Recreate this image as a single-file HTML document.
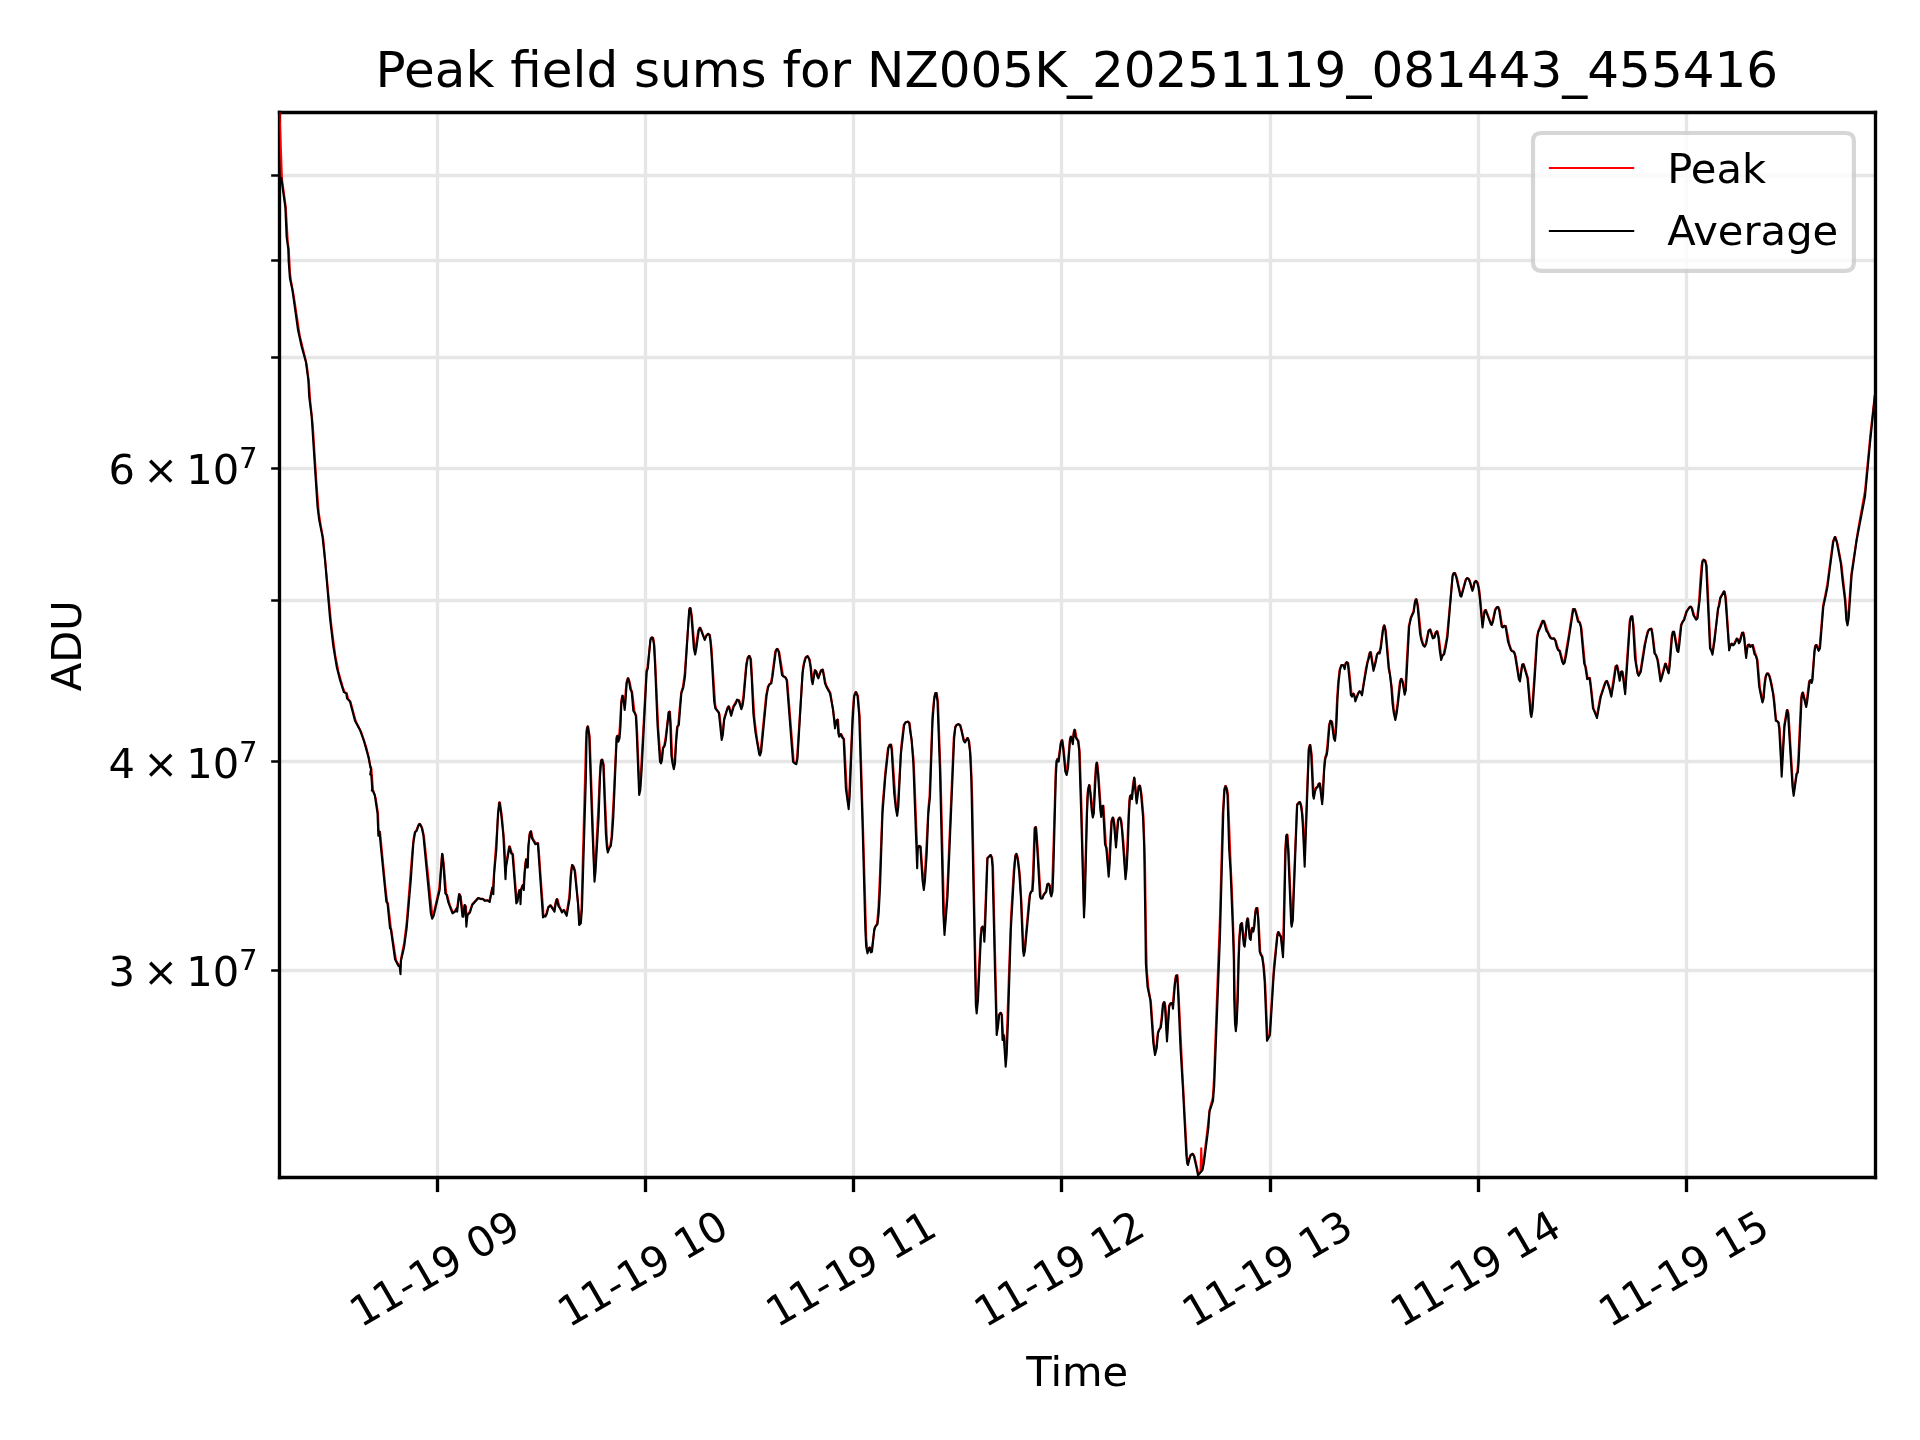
<!DOCTYPE html>
<html lang="en"><head><meta charset="utf-8"><title>Peak field sums</title>
<style>html,body{margin:0;padding:0;background:#fff;overflow:hidden}svg{display:block;will-change:transform}</style></head>
<body>
<svg width="1920" height="1440" viewBox="0 0 460.8 345.6" version="1.1">
 <defs>
  <style type="text/css">*{stroke-linejoin: round; stroke-linecap: butt}</style>
 </defs>
 <g id="figure_1">
  <g id="patch_1">
   <path d="M 0 345.6 
L 460.8 345.6 
L 460.8 0 
L 0 0 
z
" style="fill: #ffffff"/>
  </g>
  <g id="axes_1">
   <g id="patch_2">
    <path d="M 67.08 282.6 
L 450.12 282.6 
L 450.12 27 
L 67.08 27 
z
" style="fill: #ffffff"/>
   </g>
   <g id="matplotlib.axis_1">
    <g id="xtick_1">
     <g id="line2d_1">
      <path d="M 105.0 282.6 L 105.0 27" clip-path="url(#p06871fd2fd)" style="fill: none; stroke: #e6e6e6; stroke-width: 0.8; stroke-linecap: square"/>
     </g>
     <g id="line2d_2">
      <defs>
       <path id="me9781d73f8" d="M 0 0 
L 0 3.5 
" style="stroke: #000000; stroke-width: 0.8"/>
      </defs>
      <g>
       <use href="#me9781d73f8" x="105.0" y="282.6" style="stroke: #000000; stroke-width: 0.8"/>
      </g>
     </g>
     <g id="text_1" transform="translate(-0.3360 0.0480)">
      <text style="font-size: 10px; font-family: 'DejaVu Sans', 'Liberation Sans', sans-serif" transform="translate(86.88703 318.660909) rotate(-30)">11-19 09</text>
     </g>
    </g>
    <g id="xtick_2">
     <g id="line2d_3">
      <path d="M 154.92 282.6 L 154.92 27" clip-path="url(#p06871fd2fd)" style="fill: none; stroke: #e6e6e6; stroke-width: 0.8; stroke-linecap: square"/>
     </g>
     <g id="line2d_4">
      <g>
       <use href="#me9781d73f8" x="154.92" y="282.6" style="stroke: #000000; stroke-width: 0.8"/>
      </g>
     </g>
     <g id="text_2" transform="translate(-0.3360 0.0480)">
      <text style="font-size: 10px; font-family: 'DejaVu Sans', 'Liberation Sans', sans-serif" transform="translate(136.84783 318.660909) rotate(-30)">11-19 10</text>
     </g>
    </g>
    <g id="xtick_3">
     <g id="line2d_5">
      <path d="M 204.84 282.6 L 204.84 27" clip-path="url(#p06871fd2fd)" style="fill: none; stroke: #e6e6e6; stroke-width: 0.8; stroke-linecap: square"/>
     </g>
     <g id="line2d_6">
      <g>
       <use href="#me9781d73f8" x="204.84" y="282.6" style="stroke: #000000; stroke-width: 0.8"/>
      </g>
     </g>
     <g id="text_3" transform="translate(-0.3360 0.0480)">
      <text style="font-size: 10px; font-family: 'DejaVu Sans', 'Liberation Sans', sans-serif" transform="translate(186.80863 318.660909) rotate(-30)">11-19 11</text>
     </g>
    </g>
    <g id="xtick_4">
     <g id="line2d_7">
      <path d="M 254.76 282.6 L 254.76 27" clip-path="url(#p06871fd2fd)" style="fill: none; stroke: #e6e6e6; stroke-width: 0.8; stroke-linecap: square"/>
     </g>
     <g id="line2d_8">
      <g>
       <use href="#me9781d73f8" x="254.76" y="282.6" style="stroke: #000000; stroke-width: 0.8"/>
      </g>
     </g>
     <g id="text_4" transform="translate(-0.3360 0.0480)">
      <text style="font-size: 10px; font-family: 'DejaVu Sans', 'Liberation Sans', sans-serif" transform="translate(236.76943 318.660909) rotate(-30)">11-19 12</text>
     </g>
    </g>
    <g id="xtick_5">
     <g id="line2d_9">
      <path d="M 304.92 282.6 L 304.92 27" clip-path="url(#p06871fd2fd)" style="fill: none; stroke: #e6e6e6; stroke-width: 0.8; stroke-linecap: square"/>
     </g>
     <g id="line2d_10">
      <g>
       <use href="#me9781d73f8" x="304.92" y="282.6" style="stroke: #000000; stroke-width: 0.8"/>
      </g>
     </g>
     <g id="text_5" transform="translate(-0.3360 0.0480)">
      <text style="font-size: 10px; font-family: 'DejaVu Sans', 'Liberation Sans', sans-serif" transform="translate(286.73023 318.660909) rotate(-30)">11-19 13</text>
     </g>
    </g>
    <g id="xtick_6">
     <g id="line2d_11">
      <path d="M 354.84 282.6 L 354.84 27" clip-path="url(#p06871fd2fd)" style="fill: none; stroke: #e6e6e6; stroke-width: 0.8; stroke-linecap: square"/>
     </g>
     <g id="line2d_12">
      <g>
       <use href="#me9781d73f8" x="354.84" y="282.6" style="stroke: #000000; stroke-width: 0.8"/>
      </g>
     </g>
     <g id="text_6" transform="translate(-0.3360 0.0480)">
      <text style="font-size: 10px; font-family: 'DejaVu Sans', 'Liberation Sans', sans-serif" transform="translate(336.69103 318.660909) rotate(-30)">11-19 14</text>
     </g>
    </g>
    <g id="xtick_7">
     <g id="line2d_13">
      <path d="M 404.76 282.6 L 404.76 27" clip-path="url(#p06871fd2fd)" style="fill: none; stroke: #e6e6e6; stroke-width: 0.8; stroke-linecap: square"/>
     </g>
     <g id="line2d_14">
      <g>
       <use href="#me9781d73f8" x="404.76" y="282.6" style="stroke: #000000; stroke-width: 0.8"/>
      </g>
     </g>
     <g id="text_7" transform="translate(-0.3360 0.0480)">
      <text style="font-size: 10px; font-family: 'DejaVu Sans', 'Liberation Sans', sans-serif" transform="translate(386.65183 318.660909) rotate(-30)">11-19 15</text>
     </g>
    </g>
    <g id="text_8" transform="translate(-0.0720 0.5796)">
     <text style="font-size: 10px; font-family: 'DejaVu Sans', 'Liberation Sans', sans-serif; text-anchor: middle" x="258.6" y="332.060408" transform="rotate(-0 258.6 332.060408)">Time</text>
    </g>
   </g>
   <g id="matplotlib.axis_2">
    <g id="ytick_1">
     <g id="line2d_15">
      <path d="M 67.08 232.92 L 450.12 232.92" clip-path="url(#p06871fd2fd)" style="fill: none; stroke: #e6e6e6; stroke-width: 0.8; stroke-linecap: square"/>
     </g>
     <g id="line2d_16">
      <defs>
       <path id="m1f9782f0f3" d="M 0 0 
L -2 0 
" style="stroke: #000000; stroke-width: 0.6"/>
      </defs>
      <g>
       <use href="#m1f9782f0f3" x="67.08" y="232.92" style="stroke: #000000; stroke-width: 0.6"/>
      </g>
     </g>
     <g id="text_9" transform="translate(0.5760 0.0000)">
      <!-- $\mathdefault{3\times10^{7}}$ -->
      <g transform="translate(25.48 236.623219)">
       <text>
        <tspan x="0" y="-0.064063" style="font-size: 10px; font-family: 'DejaVu Sans'">3</tspan>
        <tspan x="8.310547" y="-0.064063" style="font-size: 10px; font-family: 'DejaVu Sans'">×</tspan>
        <tspan x="18.637695" y="-0.064063" style="font-size: 10px; font-family: 'DejaVu Sans'">1</tspan>
        <tspan x="25" y="-0.064063" style="font-size: 10px; font-family: 'DejaVu Sans'">0</tspan>
        <tspan x="31.314008" y="-3.892188" style="font-size: 7px; font-family: 'DejaVu Sans'">7</tspan>
       </text>
      </g>
     </g>
    </g>
    <g id="ytick_2">
     <g id="line2d_17">
      <path d="M 67.08 182.76 L 450.12 182.76" clip-path="url(#p06871fd2fd)" style="fill: none; stroke: #e6e6e6; stroke-width: 0.8; stroke-linecap: square"/>
     </g>
     <g id="line2d_18">
      <g>
       <use href="#m1f9782f0f3" x="67.08" y="182.76" style="stroke: #000000; stroke-width: 0.6"/>
      </g>
     </g>
     <g id="text_10" transform="translate(0.5760 0.0000)">
      <!-- $\mathdefault{4\times10^{7}}$ -->
      <g transform="translate(25.48 186.667714)">
       <text>
        <tspan x="0" y="-0.064063" style="font-size: 10px; font-family: 'DejaVu Sans'">4</tspan>
        <tspan x="8.310547" y="-0.064063" style="font-size: 10px; font-family: 'DejaVu Sans'">×</tspan>
        <tspan x="18.637695" y="-0.064063" style="font-size: 10px; font-family: 'DejaVu Sans'">1</tspan>
        <tspan x="25" y="-0.064063" style="font-size: 10px; font-family: 'DejaVu Sans'">0</tspan>
        <tspan x="31.314008" y="-3.892188" style="font-size: 7px; font-family: 'DejaVu Sans'">7</tspan>
       </text>
      </g>
     </g>
    </g>
    <g id="ytick_3">
     <g id="line2d_19">
      <path d="M 67.08 144.12 L 450.12 144.12" clip-path="url(#p06871fd2fd)" style="fill: none; stroke: #e6e6e6; stroke-width: 0.8; stroke-linecap: square"/>
     </g>
     <g id="line2d_20">
      <g>
       <use href="#m1f9782f0f3" x="67.08" y="144.12" style="stroke: #000000; stroke-width: 0.6"/>
      </g>
     </g>
    </g>
    <g id="ytick_4">
     <g id="line2d_21">
      <path d="M 67.08 112.44 L 450.12 112.44" clip-path="url(#p06871fd2fd)" style="fill: none; stroke: #e6e6e6; stroke-width: 0.8; stroke-linecap: square"/>
     </g>
     <g id="line2d_22">
      <g>
       <use href="#m1f9782f0f3" x="67.08" y="112.44" style="stroke: #000000; stroke-width: 0.6"/>
      </g>
     </g>
     <g id="text_11" transform="translate(0.5760 0.0000)">
      <!-- $\mathdefault{6\times10^{7}}$ -->
      <g transform="translate(25.48 116.259385)">
       <text>
        <tspan x="0" y="-0.064063" style="font-size: 10px; font-family: 'DejaVu Sans'">6</tspan>
        <tspan x="8.310547" y="-0.064063" style="font-size: 10px; font-family: 'DejaVu Sans'">×</tspan>
        <tspan x="18.637695" y="-0.064063" style="font-size: 10px; font-family: 'DejaVu Sans'">1</tspan>
        <tspan x="25" y="-0.064063" style="font-size: 10px; font-family: 'DejaVu Sans'">0</tspan>
        <tspan x="31.314008" y="-3.892188" style="font-size: 7px; font-family: 'DejaVu Sans'">7</tspan>
       </text>
      </g>
     </g>
    </g>
    <g id="ytick_5">
     <g id="line2d_23">
      <path d="M 67.08 85.8 L 450.12 85.8" clip-path="url(#p06871fd2fd)" style="fill: none; stroke: #e6e6e6; stroke-width: 0.8; stroke-linecap: square"/>
     </g>
     <g id="line2d_24">
      <g>
       <use href="#m1f9782f0f3" x="67.08" y="85.8" style="stroke: #000000; stroke-width: 0.6"/>
      </g>
     </g>
    </g>
    <g id="ytick_6">
     <g id="line2d_25">
      <path d="M 67.08 62.52 L 450.12 62.52" clip-path="url(#p06871fd2fd)" style="fill: none; stroke: #e6e6e6; stroke-width: 0.8; stroke-linecap: square"/>
     </g>
     <g id="line2d_26">
      <g>
       <use href="#m1f9782f0f3" x="67.08" y="62.52" style="stroke: #000000; stroke-width: 0.6"/>
      </g>
     </g>
    </g>
    <g id="ytick_7">
     <g id="line2d_27">
      <path d="M 67.08 42.12 L 450.12 42.12" clip-path="url(#p06871fd2fd)" style="fill: none; stroke: #e6e6e6; stroke-width: 0.8; stroke-linecap: square"/>
     </g>
     <g id="line2d_28">
      <g>
       <use href="#m1f9782f0f3" x="67.08" y="42.12" style="stroke: #000000; stroke-width: 0.6"/>
      </g>
     </g>
    </g>
    <g id="text_12" transform="translate(0.0960 0.1800)">
     <text style="font-size: 10px; font-family: 'DejaVu Sans', 'Liberation Sans', sans-serif; text-anchor: middle" x="19.400312" y="154.8" transform="rotate(-90 19.400312 154.8)">ADU</text>
    </g>
   </g>
   <g id="patch_3">
    <path d="M 67.08 282.6 L 67.08 27" style="fill: none; stroke: #000000; stroke-width: 0.8; stroke-linejoin: miter; stroke-linecap: square"/>
   </g>
   <g id="patch_4">
    <path d="M 450.12 282.6 L 450.12 27" style="fill: none; stroke: #000000; stroke-width: 0.8; stroke-linejoin: miter; stroke-linecap: square"/>
   </g>
   <g id="patch_5">
    <path d="M 67.08 282.6 L 450.12 282.6" style="fill: none; stroke: #000000; stroke-width: 0.8; stroke-linejoin: miter; stroke-linecap: square"/>
   </g>
   <g id="patch_6">
    <path d="M 67.08 27.0 L 450.12 27.0" style="fill: none; stroke: #000000; stroke-width: 0.8; stroke-linejoin: miter; stroke-linecap: square"/>
   </g>
   <g id="line2d_29">
    <path d="M 67.08 27 
L 67.68 43.064789 
L 68.58 49.65 
L 69.06 58 
L 69.3 59.8 
L 69.6 65.466667 
L 69.84 67.453333 
L 70.5 71.034783 
L 71.94 80.563636 
L 73.02 85 
L 73.62 87.533333 
L 74.16 92 
L 74.46 96.32 
L 75.06 101.96 
L 75.96 116.08 
L 76.5 123.04 
L 76.98 126.1 
L 77.58 129.4 
L 78.84 143.04 
L 79.56 150.44 
L 80.46 157.24 
L 81.24 161.28 
L 82.26 164.913913 
L 82.74 166.166667 
L 83.22 166.390667 
L 83.58 167.8 
L 84.12 168.4 
L 85.38 173.11 
L 86.76 175.872 
L 87.9 179.368 
L 88.56 181.98 
L 88.86 184.08 
L 89.04 184.08 
L 89.16 184.68 
L 89.52 189.565714 
L 90.18 191.6 
L 90.72 195.2 
L 90.9 199.814286 
L 90.96 199.6 
L 91.2 199.6 
L 92.52 213.2 
L 92.94 216.542857 
L 93.12 216.8 
L 93.84 222.92 
L 93.9 222.98 
L 94.2 225.016 
L 95.04 230.44 
L 95.88 231.9 
L 96 231.975 
L 96.06 232.18 
L 96.24 230.063158 
L 97.02 226.173333 
L 97.62 221.176 
L 98.88 205.333333 
L 99.24 201.36 
L 99.6 199.68 
L 99.9 199.34 
L 100.5 197.87 
L 100.68 197.756667 
L 100.92 197.866667 
L 101.4 198.96 
L 101.76 200.8 
L 103.8 220.102222 
L 104.04 219.466667 
L 105.42 213.32 
L 106.08 205.082857 
L 106.26 205.082857 
L 106.62 208.7 
L 107.1 214.525 
L 107.34 214.89 
L 107.94 217.172 
L 108.72 219.04 
L 109.14 218.68 
L 109.56 218.08 
L 109.68 218.08 
L 110.16 214.642857 
L 110.34 214.642857 
L 110.58 215.157143 
L 110.94 218.338462 
L 111.12 219.65 
L 111.48 217.24 
L 111.66 217.24 
L 111.84 217.6 
L 111.96 220.48 
L 112.02 220.2 
L 112.2 219.48 
L 112.74 218.792308 
L 113.34 217.035294 
L 114.72 215.538667 
L 115.14 215.622667 
L 115.62 215.732 
L 115.98 215.768 
L 116.58 216.14 
L 117.18 216.126154 
L 117.42 216.310769 
L 117.72 214.98 
L 118.14 213 
L 118.32 213 
L 119.76 192.6 
L 120 192.6 
L 120.48 196.146667 
L 121.02 202.3 
L 121.32 208 
L 121.38 207.861538 
L 122.16 203.2 
L 122.4 203.2 
L 122.88 204.85 
L 123.12 205 
L 124.02 216.485714 
L 124.08 216.4 
L 124.56 213.72 
L 124.8 213.6 
L 124.98 213.54 
L 125.4 212.46 
L 125.58 212.46 
L 125.64 212.6 
L 126.06 207.144444 
L 126.24 206.4 
L 126.42 206.4 
L 126.54 207.6 
L 127.02 200.48 
L 127.2 199.712 
L 127.38 199.568 
L 127.5 199.568 
L 127.68 200.48 
L 127.92 201.384615 
L 128.7 202.486667 
L 129.18 202.406667 
L 129.42 205.55 
L 129.96 213.2 
L 130.32 217.68 
L 130.44 219.857143 
L 130.5 219.814286 
L 130.86 219.8125 
L 131.16 219.08 
L 131.58 217.691667 
L 132.06 217.301667 
L 132.24 217.335385 
L 133.02 218.3875 
L 133.44 216.142857 
L 133.62 215.8 
L 133.8 215.8 
L 134.28 217.64 
L 134.82 218.625 
L 134.94 218.73 
L 135.24 218.4375 
L 135.42 218.4375 
L 135.96 219.36 
L 136.62 215.228571 
L 137.04 209 
L 137.28 207.628571 
L 137.52 207.714286 
L 137.82 208.3125 
L 138.06 209.21 
L 139.02 220.142857 
L 139.14 221.74 
L 139.2 221.68 
L 139.26 221.62 
L 139.56 218 
L 140.64 177.92 
L 140.82 174.853333 
L 141 174.435556 
L 141.18 174.435556 
L 141.54 176.914286 
L 142.32 199.6 
L 142.68 210.1 
L 142.74 209.8 
L 142.92 207.1 
L 143.7 191.8 
L 144.06 183.957143 
L 144.24 182.488 
L 144.48 182.32 
L 144.6 182.32 
L 144.9 183.52 
L 145.2 191.65 
L 145.68 202.057143 
L 145.92 204.1 
L 146.28 203.3 
L 146.46 203.03 
L 146.76 200.8 
L 147.24 192.16 
L 147.96 176.96 
L 148.14 176.6 
L 148.32 176.6 
L 148.44 177.44 
L 148.5 177.371429 
L 148.56 177.2 
L 148.86 172.72 
L 149.1 168.157143 
L 149.34 167 
L 149.52 167 
L 149.88 169.066667 
L 149.94 169 
L 150.18 165.571429 
L 150.42 163.475 
L 150.66 162.8 
L 150.84 162.8 
L 151.2 164.114286 
L 151.5 165.5875 
L 151.74 166.2 
L 152.28 170.828571 
L 152.58 171.45 
L 152.7 171.75 
L 152.94 176.175 
L 153.48 189.942857 
L 153.6 189 
L 154.2 178.4 
L 155.16 160.971429 
L 155.4 160 
L 156.18 153.1875 
L 156.36 153 
L 156.78 153.1 
L 157.08 155.085714 
L 157.5 164.15 
L 157.98 174.771429 
L 158.58 182.9 
L 158.7 182.6 
L 158.76 182.4 
L 159.12 179.42 
L 159.42 178.9 
L 159.78 176.7 
L 160.5 170.86 
L 160.68 170.8 
L 160.8 170.8 
L 161.04 174.866667 
L 161.34 181.914286 
L 161.7 183.9875 
L 161.88 183.2 
L 162.42 175.075 
L 162.6 174.25 
L 162.78 174.025 
L 163.08 170.4 
L 163.5 166.108333 
L 163.92 164.74 
L 164.34 161.5 
L 165.48 146 
L 165.78 146.04 
L 166.08 148.171429 
L 166.74 156.0625 
L 166.86 156.34 
L 167.16 154.228571 
L 167.58 151.325 
L 167.88 150.68 
L 168.12 150.68 
L 168.78 152.42 
L 169.14 153.25 
L 169.62 152.336 
L 169.92 152.12 
L 170.16 152.213333 
L 170.4 152.4 
L 170.76 155.542857 
L 171.18 162.15 
L 171.66 169.2 
L 171.9 170.136364 
L 172.68 171.377778 
L 173.28 176.742857 
L 173.4 175.95 
L 173.82 172.31 
L 174.66 169.691429 
L 174.84 169.588571 
L 175.02 169.6 
L 175.44 171.228571 
L 175.5 171.1875 
L 175.98 169.569231 
L 176.64 168.36 
L 176.88 167.928889 
L 177.3 168.035556 
L 177.42 168.1375 
L 177.96 169.742857 
L 178.02 169.571429 
L 178.14 169.014286 
L 178.44 166.6 
L 179.1 159.375 
L 179.46 157.766667 
L 179.76 157.45 
L 179.94 157.45 
L 180.24 158.2 
L 180.72 166.8 
L 181.08 172.666667 
L 181.74 177.692308 
L 182.34 181.032 
L 182.52 180.531429 
L 182.7 178.825 
L 183.84 167.1 
L 184.26 164.9 
L 184.62 164.19 
L 184.98 164.01 
L 185.28 162.4 
L 186.06 156.33 
L 186.3 155.87 
L 186.48 155.757778 
L 186.66 155.757778 
L 187.02 156.54 
L 187.92 162.12 
L 188.46 162.53 
L 188.64 162.675 
L 188.94 163.46 
L 190.5 182.86 
L 190.98 183.27 
L 191.04 183.2 
L 191.28 182 
L 192.72 160.16 
L 193.14 158.29 
L 193.38 157.72 
L 193.8 157.48 
L 193.98 157.588 
L 194.34 158.3125 
L 194.7 160.685714 
L 195 163.533333 
L 195.24 162.182857 
L 195.54 160.88 
L 195.78 160.948571 
L 196.02 161.283333 
L 196.38 162.5 
L 196.62 161.937778 
L 197.04 160.84 
L 197.52 160.72 
L 198.06 163.625 
L 198.3 164.45 
L 198.78 165.366667 
L 199.32 166.4 
L 200.22 172.385714 
L 200.4 174.08 
L 200.7 172.99 
L 201 172.72 
L 201.12 172.72 
L 201.42 176.4 
L 201.48 176.5 
L 201.54 176.41 
L 201.78 176.23 
L 201.96 176.3 
L 202.44 177.222222 
L 202.56 177.355556 
L 202.68 179.2 
L 203.28 190.48 
L 203.64 193.171429 
L 203.88 189.028571 
L 204.66 170.72 
L 204.96 166.976 
L 205.32 166.136 
L 205.56 166.172 
L 205.92 167 
L 206.34 172.2 
L 207.24 202.4 
L 207.9 225.2 
L 208.14 227.9 
L 208.2 228.2 
L 208.26 228.157143 
L 208.56 227.466667 
L 208.86 227.485714 
L 209.1 228.442857 
L 209.16 228.4 
L 209.94 222.55 
L 210.18 222.175 
L 210.48 221.8 
L 210.84 217.7 
L 211.2 209.45 
L 211.8 193.485714 
L 212.46 185.4 
L 213.12 179.5 
L 213.48 178.777143 
L 213.9 178.725714 
L 214.08 179.744 
L 214.26 182.333333 
L 214.98 192.74 
L 215.28 194.9 
L 215.4 194.228571 
L 215.52 192.8 
L 216.3 179 
L 216.9 173.9625 
L 217.32 173.35 
L 217.92 173.2 
L 218.28 173.488 
L 218.4 174.192 
L 219.24 182.08 
L 219.42 185.7 
L 220.14 204.2 
L 220.2 203.525 
L 220.56 203.014286 
L 220.86 203.1 
L 220.98 203.185714 
L 221.28 207.6 
L 221.7 212.55 
L 221.88 211.2 
L 222.42 201.7 
L 222.84 193.6 
L 223.08 191.2 
L 223.8 171.64 
L 224.22 167.2 
L 224.46 166.366667 
L 224.82 166.326667 
L 225.06 167.954286 
L 225.12 168.4 
L 225.72 185.2 
L 226.62 221.057143 
L 226.74 222.375 
L 227.28 215.2 
L 228.9 177.014286 
L 229.26 174.4125 
L 229.62 173.93 
L 230.1 173.81 
L 230.4 173.996 
L 230.52 174.08 
L 231 176.114286 
L 231.36 177.657143 
L 231.54 177.975 
L 231.6 177.975 
L 232.14 177.12 
L 232.32 177.12 
L 232.62 177.9625 
L 232.98 181.675 
L 233.34 191.485714 
L 233.76 213.6 
L 234.3 240.6 
L 234.42 241.8 
L 234.66 238.542857 
L 235.32 224.72 
L 235.56 222.64 
L 235.8 222.4 
L 235.92 222.4 
L 236.22 223.55 
L 236.28 223.2 
L 236.94 205.94 
L 237.78 205.2 
L 237.84 205.2 
L 238.14 206.02 
L 238.32 208 
L 238.92 233.2 
L 239.28 247.15 
L 239.58 244.6 
L 239.76 243.47 
L 240.12 243.08 
L 240.24 243.08 
L 240.48 243.525714 
L 240.6 246 
L 240.78 248.571429 
L 240.96 248.571429 
L 241.02 248.8 
L 241.38 254.366667 
L 241.56 251.2 
L 242.04 236.628571 
L 242.64 220 
L 243.3 208.942857 
L 243.66 205.316667 
L 243.84 204.976667 
L 244.08 205.074286 
L 244.38 206.48 
L 244.8 210.4 
L 245.22 218.057143 
L 245.64 228 
L 245.76 228.6 
L 245.94 227.4 
L 246.96 216.12 
L 247.2 214.457143 
L 247.5 213.9125 
L 247.68 213.8 
L 247.92 209.6 
L 248.28 198.8 
L 248.52 198.56 
L 248.64 198.56 
L 248.7 198.706667 
L 249.06 203.825 
L 249.78 215.302857 
L 250.08 215.6 
L 250.56 214.55 
L 250.98 214.025 
L 251.4 212.171429 
L 251.58 212.102857 
L 251.76 212.154286 
L 252 212.6 
L 252.3 214.7 
L 252.48 214 
L 252.84 202.8 
L 253.38 184.6 
L 253.56 182.56 
L 253.74 182.2 
L 253.92 182.2 
L 253.98 182.328571 
L 254.1 181.633333 
L 254.64 177.988571 
L 254.82 177.68 
L 255 177.68 
L 255.36 180.571429 
L 255.84 185.3 
L 255.96 185.6 
L 256.26 183.542857 
L 256.8 177.2 
L 256.98 176.8 
L 257.16 176.8 
L 257.4 177.8 
L 257.52 176.866667 
L 257.76 175.296 
L 258.06 175.288 
L 258.36 177.057143 
L 258.78 177.725 
L 258.84 177.8 
L 259.14 180.52 
L 259.56 193.771429 
L 260.16 217.7 
L 260.22 216.45 
L 260.34 212.7 
L 260.94 191.3 
L 261.12 189.314286 
L 261.36 188.542857 
L 261.54 188.542857 
L 261.9 191.65 
L 262.32 195.533333 
L 262.38 195.283333 
L 262.74 188 
L 263.04 183.56 
L 263.16 183.14 
L 263.34 183.14 
L 263.46 183.928571 
L 263.76 187.657143 
L 264.24 194.736 
L 264.54 193.45 
L 264.72 193.4 
L 264.84 193.4 
L 265.44 202.975 
L 265.62 203.5375 
L 266.04 208.571429 
L 266.16 207.733333 
L 266.52 200.4 
L 266.76 196.914286 
L 267 196.271429 
L 267.24 196.366667 
L 267.48 197.771429 
L 267.78 201.75 
L 267.84 201.7 
L 268.26 197 
L 268.5 196.3875 
L 268.68 196.242857 
L 268.86 196.242857 
L 269.16 197.142857 
L 269.64 202.2 
L 270.12 209.5 
L 270.24 208.771429 
L 270.48 204.685714 
L 270.72 198.4 
L 271.02 192.228571 
L 271.2 191.028571 
L 271.44 190.857143 
L 271.62 190.9 
L 271.86 188.642857 
L 272.16 186.82 
L 272.34 186.82 
L 272.76 192.114286 
L 272.82 191.6 
L 273.24 188.744 
L 273.48 188.576 
L 273.66 188.625714 
L 274.02 191 
L 274.44 196 
L 274.8 207.2 
L 275.04 224.533333 
L 275.22 232.6 
L 275.64 237.364706 
L 276.24 240.65 
L 276.96 250.68 
L 277.26 252.48 
L 277.5 251.375 
L 277.92 247.657143 
L 278.28 246.9 
L 278.46 246.63 
L 278.76 244.4 
L 279.12 240.891429 
L 279.3 240.582857 
L 279.54 240.592 
L 279.72 241.6 
L 280.08 248.16 
L 280.62 241.24 
L 280.92 240.773333 
L 281.16 240.733333 
L 281.28 240.776 
L 281.46 241.108 
L 281.7 238.314286 
L 282.06 234.842857 
L 282.24 234.152 
L 282.54 234.08 
L 282.6 234.08 
L 282.9 239.2 
L 283.68 255.371429 
L 284.28 266.742857 
L 284.88 277.6 
L 285.06 279.24 
L 285.12 279.085714 
L 285.66 277.26 
L 285.96 277.004 
L 286.26 276.92 
L 286.38 277.01 
L 286.68 277.555556 
L 287.34 280.505 
L 287.64 281.792 
L 288.12 281.244444 
L 288.3 275.592 
L 288.48 280.8 
L 288.54 280.5 
L 288.96 277.955556 
L 289.98 269.371429 
L 290.28 266.4 
L 291.06 263.471429 
L 291.36 258.742857 
L 292.8 219.657143 
L 293.46 195.371429 
L 293.82 189.37 
L 294.06 188.68 
L 294.24 188.68 
L 294.54 189.54 
L 294.72 190.8 
L 295.38 207.9 
L 295.68 213.942857 
L 296.16 227.866667 
L 296.28 235 
L 296.46 243.8 
L 296.58 246.164 
L 296.64 245.976 
L 296.88 241.314286 
L 297 237.76 
L 297.36 225.733333 
L 297.66 221.96 
L 297.96 221.6 
L 298.08 221.6 
L 298.14 221.725714 
L 298.62 226.6 
L 298.68 226.4 
L 299.34 220.533333 
L 299.58 220.6 
L 300.06 225.233333 
L 300.48 222.72 
L 300.72 222.72 
L 300.78 222.984 
L 300.84 222.8 
L 300.96 221.866667 
L 301.32 218.4 
L 301.5 217.95 
L 301.8 217.92 
L 302.1 221.44 
L 302.46 228.457143 
L 302.94 229.514286 
L 303 229.6 
L 303.42 232.85 
L 303.66 236.2 
L 304.2 249.35 
L 304.68 248.4 
L 305.76 231.75 
L 306.54 224.184 
L 306.72 223.752 
L 306.96 223.782857 
L 307.38 224.625 
L 307.5 224.775 
L 307.86 228.244 
L 308.04 222.4 
L 308.46 203.6 
L 308.7 200.5 
L 308.82 200.32 
L 309 200.32 
L 309.3 204.88 
L 309.96 220.914286 
L 310.02 221.6 
L 310.08 221.257143 
L 310.14 220.914286 
L 310.5 212.228571 
L 311.28 193.085714 
L 311.76 192.52 
L 312.06 192.531429 
L 312.36 193.485714 
L 312.66 196.1 
L 312.9 200.6 
L 313.08 205.44 
L 313.32 199.371429 
L 314.1 179.571429 
L 314.34 178.8 
L 314.52 178.8 
L 314.82 181.3 
L 315.3 191.064 
L 315.72 189.25 
L 315.9 189 
L 316.08 189 
L 316.5 188.083333 
L 316.68 188.033333 
L 316.8 188.033333 
L 316.86 188.16 
L 317.28 192.12 
L 317.34 191.46 
L 317.46 189.514286 
L 317.88 182.8 
L 318.06 181.75 
L 318.36 180.72 
L 318.54 179.04 
L 318.96 174 
L 319.26 173 
L 319.56 173.085714 
L 319.74 173.342857 
L 320.28 177.285714 
L 320.34 177.26 
L 320.58 174.4 
L 320.82 169.16 
L 321.12 164.171429 
L 321.48 160.8 
L 321.9 159.657778 
L 322.38 159.604444 
L 322.62 159.966667 
L 322.68 160.12 
L 322.92 159.194286 
L 323.16 158.94 
L 323.4 159 
L 323.58 159.18 
L 323.82 161.033333 
L 324.42 166.942857 
L 324.48 166.93 
L 324.78 166.525 
L 324.96 166.582857 
L 325.26 167.536 
L 325.32 167.86 
L 325.38 167.6875 
L 325.98 166.26 
L 326.28 165.92 
L 326.52 166.025 
L 326.76 166.297143 
L 326.82 166.442857 
L 327 165.6 
L 327.84 160.32 
L 328.32 158.25 
L 328.5 157.4 
L 328.74 156.604 
L 328.92 156.52 
L 329.04 156.52 
L 329.64 160.571429 
L 329.7 160.357143 
L 330.12 158.571429 
L 330.48 156.975 
L 330.78 156.625 
L 331.02 156.6625 
L 331.32 155.257143 
L 331.98 150.48 
L 332.16 150.16 
L 332.34 150.16 
L 332.64 151.733333 
L 333.36 160.114286 
L 334.08 165.371429 
L 334.5 170.15 
L 334.86 172.177778 
L 335.04 171.4 
L 335.4 168.8 
L 335.94 163.742857 
L 336.18 162.976667 
L 336.48 163.017143 
L 336.78 164.028571 
L 337.14 166.16 
L 337.26 165.68 
L 337.56 159.885714 
L 338.1 150.3 
L 338.64 148.08 
L 339.18 146.85 
L 339.72 143.885714 
L 340.02 143.8875 
L 340.38 145.885714 
L 341.1 152.9 
L 341.52 154.44 
L 341.76 154.92 
L 341.88 155.04 
L 341.94 154.966667 
L 342.18 154.4875 
L 342.84 151.32 
L 343.2 151.08 
L 343.32 151.08 
L 343.98 153.09 
L 344.1 153.03 
L 344.16 153 
L 344.58 151.7 
L 344.88 151.52 
L 345 151.52 
L 345.36 153.2 
L 345.9 157.733333 
L 345.96 157.775 
L 346.2 157.28 
L 346.5 156.91 
L 347.22 153.16 
L 347.4 151.428571 
L 348.66 137.885714 
L 348.84 137.573333 
L 349.2 137.533333 
L 349.32 137.715556 
L 349.68 138.8 
L 350.58 142.944444 
L 350.64 143.033333 
L 351.06 141.6 
L 351.78 139.05 
L 352.08 138.735556 
L 352.38 138.828889 
L 352.68 139.2 
L 353.04 140.325 
L 353.34 141.45 
L 353.46 141.25 
L 353.94 139.575 
L 354.18 139.425 
L 354.42 139.525 
L 354.66 139.871429 
L 355.02 141.514286 
L 355.32 144.2 
L 355.8 149.76 
L 355.86 149.34 
L 356.28 146.6 
L 356.52 146.4 
L 356.64 146.4 
L 357.9 149.775 
L 357.96 149.8 
L 358.26 148.857143 
L 358.8 146.325 
L 359.22 145.7475 
L 359.64 145.68 
L 359.94 146.542857 
L 360.54 150.4125 
L 360.72 150.428571 
L 360.96 150.2075 
L 361.38 150.2975 
L 361.44 150.32 
L 362.28 154.8 
L 362.76 156.04 
L 363.24 156.364444 
L 363.42 156.45 
L 363.78 157.628571 
L 364.62 162.9125 
L 364.74 163.108571 
L 365.34 159.5 
L 365.64 159.414286 
L 365.76 159.525 
L 366.72 162.8 
L 367.38 170.48 
L 367.5 171.464 
L 367.74 169.65 
L 368.28 161.6 
L 368.88 152.742857 
L 369.24 151.28 
L 369.72 150.08 
L 370.14 149.042857 
L 370.44 149.013333 
L 370.62 149.073333 
L 371.52 151.711111 
L 371.7 152.05 
L 372.18 152.99 
L 372.42 153.22 
L 372.9 153.205 
L 373.08 153.266667 
L 373.44 153.975 
L 373.98 155.85 
L 374.16 156.066667 
L 374.4 156.2 
L 375.12 158.971429 
L 375.24 159.2 
L 375.3 159.125 
L 375.42 158.9 
L 375.96 155.7 
L 376.5 152.485714 
L 377.46 146.242857 
L 377.7 146.2 
L 378 146.2 
L 378.48 147.685714 
L 378.96 149.266667 
L 379.2 149.4 
L 379.56 150.857143 
L 380.4 159.428571 
L 380.64 160.266667 
L 381.06 162.814286 
L 381.12 162.788571 
L 381.6 162.72 
L 381.96 165.771429 
L 382.44 170 
L 383.04 171.55 
L 383.22 171.94 
L 384.06 167.28 
L 385.2 163.8 
L 385.56 163.45 
L 385.74 163.45 
L 386.34 165.2 
L 386.58 166.3 
L 386.7 166.628571 
L 387.36 162.228571 
L 387.72 159.953333 
L 388.02 159.743333 
L 388.14 159.743333 
L 388.32 160.44 
L 388.62 162.266667 
L 388.68 162.6 
L 388.74 162.42 
L 388.98 161.28 
L 389.16 161.2 
L 389.4 161.2 
L 389.52 161.68 
L 389.76 163.6 
L 390 165.6 
L 390.48 158.4 
L 391.14 148.9 
L 391.44 147.96 
L 391.8 147.92 
L 392.1 150.6 
L 392.7 159.285714 
L 393.12 161.6 
L 393.3 161.930769 
L 393.72 160.914286 
L 394.68 154.8 
L 395.4 151.68 
L 395.64 151.2 
L 395.94 150.953333 
L 396.36 150.893333 
L 396.42 150.973333 
L 396.72 152.8 
L 397.2 156.8 
L 397.62 157.5 
L 397.98 158.828571 
L 398.58 163.057143 
L 398.64 162.902857 
L 399.06 161.333333 
L 399.6 159.28 
L 399.84 159.28 
L 400.38 161.314286 
L 400.44 161.066667 
L 400.68 158.857143 
L 401.22 152.5 
L 401.46 151.6 
L 401.82 151.6 
L 402.06 152.857143 
L 402.66 156.22 
L 402.72 156.182857 
L 403.14 152.3 
L 403.44 149.911111 
L 403.98 148.925 
L 404.1 148.728571 
L 404.76 146.68 
L 405.54 145.64 
L 405.9 145.605714 
L 406.14 146.071429 
L 406.26 146.4625 
L 406.68 147.9 
L 407.1 148.575556 
L 407.28 148.4 
L 407.76 144.4 
L 408.06 139.72 
L 408.36 135.828571 
L 408.6 134.594286 
L 408.84 134.3375 
L 409.14 134.4425 
L 409.32 134.6 
L 409.62 135.96 
L 410.04 145.2 
L 410.52 155.6 
L 410.94 156.528571 
L 411 156.448 
L 411.36 153.9 
L 412.5 145.271429 
L 412.86 143.4125 
L 413.7 141.988571 
L 413.94 142.011429 
L 414.24 143.8 
L 415.02 155.54 
L 415.08 155.308571 
L 415.32 154.74 
L 415.56 154.505 
L 415.8 154.58 
L 415.98 154.74 
L 416.22 154.45 
L 416.76 153.28 
L 417.06 153.36 
L 417.3 153.84 
L 417.42 154.085714 
L 417.54 153.742857 
L 418.08 151.888 
L 418.44 151.84 
L 418.68 153.04 
L 419.04 157.152 
L 419.1 156.576 
L 419.34 155.1 
L 419.52 154.765714 
L 419.94 154.76 
L 420.12 155.093333 
L 420.18 155.023333 
L 420.6 154.8 
L 420.72 154.8 
L 421.44 157.3 
L 421.56 157.542857 
L 421.8 158.4 
L 422.4 165.257143 
L 423 168.085714 
L 423.12 167.742857 
L 423.24 166.533333 
L 423.6 162.971429 
L 423.84 161.988571 
L 424.02 161.68 
L 424.44 161.68 
L 424.8 162.485714 
L 425.28 164.6 
L 425.76 167.428571 
L 426.06 170.76 
L 426.3 172.86 
L 426.48 173.06 
L 426.78 173.26 
L 426.9 173.38 
L 427.14 175.12 
L 427.62 183.88 
L 427.68 182.8 
L 428.22 174 
L 428.82 170.48 
L 429.06 170.48 
L 429.24 171.2 
L 430.32 188.8 
L 430.5 189.95 
L 431.16 185.685714 
L 431.34 185.428571 
L 431.58 182.3 
L 432.24 167.92 
L 432.42 166.616667 
L 432.6 166.283333 
L 432.78 166.283333 
L 433.44 169.177143 
L 433.5 168.933333 
L 433.68 167.6 
L 434.16 163.675 
L 434.34 163.3 
L 434.64 163.214286 
L 434.7 163.214286 
L 434.82 163.416 
L 434.88 163.2 
L 435.54 155.35 
L 435.72 154.88 
L 435.9 154.82 
L 436.08 154.914286 
L 436.5 155.9375 
L 436.68 155.6 
L 437.52 145.371429 
L 438.06 142.875 
L 438.54 140.32 
L 439.92 129.888 
L 440.34 128.88 
L 440.52 128.88 
L 441.06 130.7 
L 441.96 135.6 
L 442.86 143.52 
L 443.04 145.8 
L 443.34 149.257143 
L 443.4 149.36 
L 443.58 148.075 
L 444.3 137.86 
L 445.92 127.253333 
L 447.6 117.828571 
L 448.92 104 
L 449.94 94.8 
L 450.12 94.8 
L 450.12 94.8 
" clip-path="url(#p06871fd2fd)" style="fill: none; stroke: #ff0000; stroke-width: 0.5; stroke-linecap: square"/>
   </g>
   <g id="text_13" transform="translate(-0.1440 -0.1200)">
    <text style="font-size: 12px; font-family: 'DejaVu Sans', 'Liberation Sans', sans-serif; text-anchor: middle" x="258.6" y="21" transform="rotate(-0 258.6 21)">Peak field sums for NZ005K_20251119_081443_455416</text>
   </g>
   <g id="line2d_30">
    <path d="M 67.08 43.92 
L 67.512 42.72 
L 68.48 49.8 
L 68.78 56.8 
L 69.18 59.8 
L 69.28 62.8 
L 69.58 66.8 
L 70.18 69.6 
L 71.52 79.2 
L 72.4 83.2 
L 73.4 86.8 
L 74 91.2 
L 74.2 95.2 
L 74.8 100 
L 75.6 112.4 
L 76.2 121.6 
L 76.6 124.8 
L 77.4 128.8 
L 78 134.4 
L 79.2 148.4 
L 80 155.2 
L 80.8 160 
L 81.6 163.2 
L 82.52 166.12 
L 83.12 166.4 
L 83.28 167.6 
L 84 168.4 
L 85.2 173 
L 86.4 175.2 
L 87.4 178 
L 88.4 181.6 
L 89.04 184.68 
L 88.848 185.856 
L 89.112 186.048 
L 89.328 189.36 
L 89.232 189.744 
L 89.496 189.84 
L 89.94 190.8 
L 90.6 195.2 
L 90.8 200.6 
L 91.08 199.6 
L 91.4 203.2 
L 92.72 216.4 
L 93 216.8 
L 93.6 222.8 
L 93.8 223 
L 94.8 230.2 
L 95.6 231.8 
L 95.92 232 
L 96.12 233.8 
L 96.24 230.6 
L 97 227.2 
L 97.6 222.8 
L 98.6 211.2 
L 99.2 202.4 
L 99.6 199.8 
L 100 199.4 
L 100.4 198.2 
L 100.72 197.72 
L 101.2 198.6 
L 101.6 200.4 
L 103.4 219.2 
L 103.72 220.48 
L 104.08 219.8 
L 105.52 213.6 
L 106.12 204.92 
L 106.4 207.2 
L 106.88 214.4 
L 107.2 214.8 
L 107.6 216.6 
L 108.6 219.2 
L 109.2 218.8 
L 109.6 218 
L 109.72 218.8 
L 110.2 214.6 
L 110.48 215.2 
L 111 220 
L 111.2 220 
L 111.52 217.2 
L 111.72 217.6 
L 111.92 222.4 
L 112.2 219.6 
L 112.8 219 
L 113.32 217.2 
L 114.8 215.52 
L 115.4 215.8 
L 115.8 215.72 
L 116.4 216.2 
L 117 216.08 
L 117.52 216.48 
L 118.2 213 
L 118.4 214.6 
L 118.6 209.6 
L 119.12 204 
L 119.52 195.2 
L 119.88 192.6 
L 120.2 194.6 
L 120.8 200.4 
L 121.32 211 
L 121.48 208 
L 122.28 203.2 
L 122.68 204.8 
L 123 205 
L 123.92 216.8 
L 124.2 216.4 
L 124.6 213.8 
L 124.8 213.6 
L 124.92 217 
L 125.08 213.6 
L 125.48 212.4 
L 125.72 213.6 
L 125.92 209.6 
L 126.28 206.2 
L 126.48 208.2 
L 126.68 208.2 
L 126.8 203.2 
L 127.2 200 
L 127.4 199.52 
L 127.68 201.2 
L 128.48 202.6 
L 129.08 202.4 
L 130.32 220.2 
L 130.6 219.8 
L 130.88 220 
L 131.2 219.4 
L 131.6 217.8 
L 132.08 217.28 
L 133.08 218.8 
L 133.4 216.6 
L 133.68 215.8 
L 134 217.4 
L 134.4 218 
L 134.88 219 
L 135.28 218.4 
L 136 219.8 
L 136.72 215.6 
L 137 210.4 
L 137.32 207.6 
L 137.6 208 
L 137.92 209 
L 138.72 216.8 
L 139 222 
L 139.4 221.6 
L 139.68 218 
L 140.6 187.2 
L 140.8 175.6 
L 141.04 174.32 
L 141.4 176.4 
L 142.2 199.6 
L 142.68 211.6 
L 142.92 209.2 
L 143.68 196 
L 144 186.4 
L 144.28 182.6 
L 144.48 182.32 
L 144.8 183.6 
L 145.4 200 
L 145.68 203.6 
L 145.88 204.6 
L 146.2 203.6 
L 146.6 203 
L 146.88 200.8 
L 147.2 196 
L 148 177.2 
L 148.2 176.6 
L 148.4 178 
L 148.68 177.2 
L 148.92 174.4 
L 149.12 168.8 
L 149.4 167 
L 149.68 168.4 
L 149.92 170.4 
L 150.12 168.4 
L 150.4 164 
L 150.72 162.8 
L 151 163.6 
L 151.28 165.4 
L 151.6 166 
L 152 170.6 
L 152.28 171 
L 152.6 171.8 
L 152.8 175.6 
L 153.4 190.8 
L 153.68 189.6 
L 154 184.8 
L 155.2 161.2 
L 155.48 160.4 
L 156.08 153.6 
L 156.4 153 
L 156.64 153 
L 156.92 154.4 
L 157.2 159.2 
L 157.8 174 
L 158.4 182.8 
L 158.64 183.2 
L 158.88 182.4 
L 159.12 179.6 
L 159.52 179 
L 159.8 177.6 
L 160.48 171 
L 160.68 170.8 
L 160.88 173.6 
L 161.12 181.2 
L 161.4 183.2 
L 161.72 184.6 
L 162 183.2 
L 162.28 178 
L 162.6 174.4 
L 162.92 174 
L 163.52 166.4 
L 164 165 
L 164.4 162.4 
L 165.4 146.4 
L 165.64 145.92 
L 165.92 147.6 
L 166.52 155.6 
L 166.84 157.08 
L 167.12 155.6 
L 167.72 151.2 
L 168 150.68 
L 168.32 151.4 
L 169.12 153.6 
L 169.52 152.6 
L 169.92 152.12 
L 170.28 152.4 
L 170.52 154 
L 170.8 157.6 
L 171.4 168.4 
L 171.68 170 
L 172.52 171 
L 173.2 177.6 
L 173.48 176.4 
L 173.8 172.8 
L 174.6 170 
L 174.88 169.52 
L 175.48 171.8 
L 176.08 169.6 
L 176.6 168.8 
L 176.92 167.92 
L 177.28 168.08 
L 177.92 170.2 
L 178.2 169.4 
L 178.48 167.6 
L 179.12 160 
L 179.44 158 
L 179.8 157.4 
L 180.12 158.2 
L 180.4 162.4 
L 180.8 171.2 
L 181.28 175.6 
L 182.2 181 
L 182.4 181.32 
L 182.68 180.4 
L 184 166.8 
L 184.4 164.8 
L 184.72 164.2 
L 185.12 164 
L 185.4 162.4 
L 186.2 156.2 
L 186.52 155.72 
L 186.88 156.4 
L 187.68 162 
L 188.08 162.4 
L 188.48 162.6 
L 188.8 163.2 
L 190.32 182.8 
L 190.72 183.2 
L 191.12 183.4 
L 191.4 182 
L 192.6 161.6 
L 193 159.2 
L 193.4 157.8 
L 193.8 157.48 
L 194.2 158.2 
L 194.52 160 
L 194.8 163.2 
L 195.04 164.2 
L 195.6 160.88 
L 195.88 161.2 
L 196.12 162.2 
L 196.4 162.8 
L 197.08 160.88 
L 197.4 160.72 
L 197.68 162 
L 198 164 
L 198.32 164.8 
L 199.2 166.4 
L 199.92 170.2 
L 200.4 174.8 
L 200.68 173.2 
L 201 172.72 
L 201.2 176 
L 201.4 176.8 
L 201.8 176.2 
L 202.12 177 
L 202.48 177.4 
L 203 189.2 
L 203.68 194.2 
L 203.92 191.2 
L 204.6 173.6 
L 205 167.2 
L 205.4 166.08 
L 205.8 167 
L 206.2 171.6 
L 207 197.6 
L 207.68 223.2 
L 207.88 227.2 
L 208.2 228.8 
L 208.48 227.8 
L 208.72 227.4 
L 209 228.6 
L 209.28 228.4 
L 209.8 223.2 
L 210.12 222.4 
L 210.6 221.8 
L 210.88 219.2 
L 211.2 213.2 
L 211.8 195.2 
L 212.48 186.4 
L 213.2 179.6 
L 213.52 178.8 
L 213.8 178.72 
L 214 180 
L 214.6 190.4 
L 215 194 
L 215.32 195.8 
L 215.6 193.6 
L 216.2 181.2 
L 217 174 
L 217.32 173.4 
L 217.8 173.2 
L 218.2 173.52 
L 218.4 175.2 
L 218.8 177.6 
L 219.2 183.2 
L 220.12 208.4 
L 220.28 203.6 
L 220.6 203 
L 220.88 203.2 
L 221.4 211.2 
L 221.72 213.6 
L 222 211.2 
L 222.4 205.2 
L 222.8 195.2 
L 223.2 191.2 
L 223.8 173.2 
L 224.2 168 
L 224.48 166.4 
L 224.72 166.32 
L 225 168.4 
L 225.6 185.2 
L 226.4 219.2 
L 226.68 224.4 
L 227.4 215.2 
L 229 177.2 
L 229.28 174.6 
L 229.6 174 
L 230 173.8 
L 230.4 174.08 
L 230.72 175.2 
L 231.28 177.8 
L 231.6 178.2 
L 232.2 177.12 
L 232.48 177.8 
L 232.8 180.4 
L 233.12 187.2 
L 233.6 211.2 
L 234.2 241.2 
L 234.4 243.2 
L 234.72 240 
L 235.4 225.2 
L 235.6 222.8 
L 235.8 222.4 
L 236.08 223.2 
L 236.24 226 
L 236.4 223.2 
L 237 206 
L 237.72 205.2 
L 238 205.8 
L 238.2 208 
L 238.8 233.2 
L 239.2 248.4 
L 239.52 246.4 
L 239.8 243.6 
L 240.12 243.08 
L 240.4 243.6 
L 240.6 249.6 
L 240.88 248.4 
L 241.36 256 
L 241.6 253.2 
L 241.92 245.2 
L 242.6 223.2 
L 243.4 209.2 
L 243.68 205.6 
L 243.92 204.92 
L 244.2 206 
L 244.6 209.2 
L 245 215.2 
L 245.52 228 
L 245.72 229.4 
L 246 228 
L 246.8 219.2 
L 247.2 214.8 
L 247.48 214 
L 247.8 213.8 
L 248 211.2 
L 248.4 198.8 
L 248.56 198.48 
L 248.8 201.2 
L 249.6 215.2 
L 249.88 215.68 
L 250.2 215.6 
L 250.48 214.8 
L 251.12 214 
L 251.32 212.4 
L 251.6 212.08 
L 251.88 212.6 
L 252.08 214.4 
L 252.32 215.12 
L 252.6 214 
L 252.8 209.2 
L 253.4 186.4 
L 253.6 182.8 
L 253.8 182.2 
L 254.08 182.8 
L 254.6 178.4 
L 254.88 177.68 
L 255.12 179.2 
L 255.68 185.2 
L 256 186 
L 256.32 184.4 
L 256.8 177.6 
L 257.04 176.8 
L 257.48 178.6 
L 257.72 176 
L 257.92 175.12 
L 258.12 176.8 
L 258.4 177.4 
L 258.72 177.8 
L 259 180 
L 259.48 195.2 
L 260.16 220.2 
L 260.4 215.2 
L 260.88 195.2 
L 261.12 190 
L 261.4 188.4 
L 261.68 190.4 
L 262 194.4 
L 262.28 196.2 
L 262.52 195.2 
L 263.04 184.4 
L 263.24 183 
L 263.52 185.6 
L 264.08 194.4 
L 264.28 196.08 
L 264.48 193.6 
L 264.72 193.4 
L 265.2 202.6 
L 265.52 203.6 
L 266.08 210.4 
L 266.32 207.2 
L 266.8 197.2 
L 267.08 196.2 
L 267.32 197.2 
L 267.84 203.4 
L 268.4 196.8 
L 268.72 196.2 
L 269 196.8 
L 269.28 199.2 
L 270.12 211 
L 270.4 208.4 
L 270.68 203.2 
L 270.92 196 
L 271.2 191.2 
L 271.48 190.8 
L 271.68 191.8 
L 272.2 186.6 
L 272.8 192.8 
L 273.32 188.8 
L 273.52 188.52 
L 273.8 190 
L 274.32 196 
L 274.6 203.2 
L 274.88 221.2 
L 275 231.2 
L 275.4 236.8 
L 276.08 240 
L 276.8 250.4 
L 277.2 253.2 
L 277.6 251.6 
L 277.92 248 
L 278.2 247.2 
L 278.6 246.6 
L 278.88 244.4 
L 279.12 241.2 
L 279.4 240.48 
L 279.6 241.6 
L 280.08 249.92 
L 280.6 241.6 
L 280.88 240.88 
L 281.12 240.72 
L 281.32 241 
L 281.52 242.08 
L 282 236 
L 282.28 234.2 
L 282.48 234.08 
L 282.68 236.8 
L 283.32 251.6 
L 283.92 261.6 
L 284.72 277.2 
L 284.92 279.2 
L 285.12 279.6 
L 285.4 278.4 
L 285.8 277.2 
L 286.2 276.92 
L 286.52 277.4 
L 287.2 280.4 
L 287.52 282.08 
L 288.6 280.8 
L 288.92 279.2 
L 290 270.8 
L 290.28 266.8 
L 291.12 264.2 
L 291.4 260.8 
L 292.8 224.8 
L 293.6 194.8 
L 293.88 189.6 
L 294.12 188.68 
L 294.4 189.4 
L 294.6 190.8 
L 295 204 
L 295.32 208.8 
L 295.88 222.8 
L 296.12 230.4 
L 296.2 239.6 
L 296.4 245.6 
L 296.6 247.48 
L 296.8 245.6 
L 297.08 239.6 
L 297.28 230.4 
L 297.52 224.8 
L 297.76 222 
L 298 221.52 
L 298.52 226.8 
L 298.72 227.2 
L 299 224.4 
L 299.2 221.2 
L 299.44 220.4 
L 299.92 225.2 
L 300.16 225.6 
L 300.4 223.2 
L 300.6 222.72 
L 300.8 223.6 
L 301.04 222.4 
L 301.28 219.2 
L 301.52 218 
L 301.68 217.92 
L 301.92 220 
L 302.32 228.4 
L 302.6 229.2 
L 302.88 229.6 
L 303.2 231.6 
L 303.52 235.6 
L 304.08 249.8 
L 304.8 248.4 
L 305.68 234 
L 306.6 224.4 
L 306.8 223.68 
L 307.08 224.4 
L 307.4 224.8 
L 307.92 229.72 
L 308.12 224.8 
L 308.52 204.8 
L 308.72 200.8 
L 308.88 200.32 
L 309.12 203.2 
L 309.88 221.6 
L 310 222.4 
L 310.28 220.8 
L 310.88 204.8 
L 311.32 193.2 
L 311.92 192.48 
L 312.2 193.2 
L 312.48 195.2 
L 312.72 198.8 
L 313.12 208 
L 313.6 194.8 
L 314.12 180 
L 314.4 178.8 
L 314.68 180.8 
L 315.12 190.8 
L 315.32 191.68 
L 315.6 190 
L 315.92 189 
L 316.2 189 
L 316.48 188.2 
L 316.72 188 
L 317.32 193 
L 317.52 190.8 
L 317.8 184.8 
L 318.08 182 
L 318.4 181.2 
L 318.6 180 
L 319.08 174 
L 319.32 173 
L 319.6 173.2 
L 320.12 177.2 
L 320.4 177.8 
L 320.6 176 
L 320.8 172.8 
L 321 167.6 
L 321.28 163.6 
L 321.6 160.8 
L 321.92 159.68 
L 322.28 159.6 
L 322.52 160 
L 322.72 160.6 
L 322.92 159.4 
L 323.2 158.92 
L 323.48 159.2 
L 323.92 163.6 
L 324.2 166.8 
L 324.48 167.2 
L 324.8 166.48 
L 325.08 167.2 
L 325.28 168.32 
L 325.92 166.6 
L 326.28 165.92 
L 326.6 166.2 
L 326.88 166.88 
L 327.4 163.6 
L 328.2 159 
L 328.52 158 
L 328.72 156.8 
L 328.92 156.52 
L 329.64 161 
L 330.2 158.8 
L 330.48 157.2 
L 330.8 156.6 
L 331.12 156.8 
L 331.4 155.6 
L 331.92 151.2 
L 332.2 150.08 
L 332.48 151.2 
L 333.28 160.4 
L 333.6 162 
L 333.92 164.8 
L 334.2 168.8 
L 334.52 171.2 
L 334.88 172.8 
L 335.2 171.2 
L 335.52 168.8 
L 336.08 163.6 
L 336.32 162.92 
L 336.6 163.6 
L 337.12 166.72 
L 337.4 165.6 
L 338.2 150.4 
L 338.6 148.4 
L 339.32 146.8 
L 339.6 144.4 
L 339.88 143.8 
L 340.2 145.2 
L 340.8 152 
L 341.12 153.6 
L 341.52 154.8 
L 341.92 155.2 
L 342.28 154.6 
L 342.88 151.4 
L 343.2 151.08 
L 343.88 153.2 
L 344.28 153 
L 344.6 151.8 
L 344.88 151.52 
L 345.2 152.8 
L 345.52 156 
L 345.88 158.4 
L 346.2 157.4 
L 346.6 157 
L 347 155.2 
L 347.4 152.8 
L 348.6 138.4 
L 348.88 137.6 
L 349.12 137.52 
L 349.48 138.4 
L 350.48 143 
L 350.72 143.2 
L 351.48 140.4 
L 351.8 139.2 
L 352.12 138.72 
L 352.48 139 
L 352.8 139.8 
L 353.36 141.8 
L 353.6 141.2 
L 353.88 139.8 
L 354.2 139.4 
L 354.52 139.8 
L 354.8 140.8 
L 355.08 142.8 
L 355.8 150.6 
L 356.28 146.8 
L 356.52 146.4 
L 357.8 149.8 
L 358 150 
L 358.32 149.2 
L 358.88 146.4 
L 359.2 145.8 
L 359.52 145.68 
L 359.8 146.4 
L 360.4 150.4 
L 360.72 150.6 
L 361 150.2 
L 361.32 150.32 
L 361.92 154 
L 362.6 156 
L 362.92 156.32 
L 363.28 156.4 
L 363.6 157.2 
L 364.52 163 
L 364.8 163.52 
L 365.32 159.6 
L 365.6 159.4 
L 366.6 162.8 
L 367.12 168.8 
L 367.32 171.2 
L 367.52 172.08 
L 367.8 170.4 
L 368.4 161.6 
L 368.92 153.2 
L 369.2 151.6 
L 369.6 150.8 
L 370.28 149 
L 370.52 149.08 
L 371.12 151.4 
L 371.48 151.8 
L 371.8 152.6 
L 372.2 153.2 
L 372.6 153.28 
L 372.92 153.2 
L 373.28 153.8 
L 373.6 155.2 
L 373.92 156 
L 374.28 156.2 
L 374.92 158.8 
L 375.2 159.4 
L 375.52 159 
L 375.88 157.2 
L 376.52 153.2 
L 377.6 146.2 
L 377.88 146.2 
L 378.2 147 
L 378.72 149.2 
L 379.08 149.4 
L 379.4 150.4 
L 380.2 159.2 
L 380.48 160 
L 380.92 163 
L 381.48 162.72 
L 381.72 164.4 
L 382.32 170 
L 382.68 170.8 
L 383.28 172.32 
L 384.2 167.2 
L 385.32 163.8 
L 385.6 163.4 
L 385.92 164.2 
L 386.28 165.4 
L 386.72 167.2 
L 387.32 163.6 
L 387.8 160 
L 388.04 159.72 
L 388.28 160.8 
L 388.72 163.4 
L 389.12 161.2 
L 389.32 161.2 
L 389.52 162.4 
L 390.04 166.6 
L 390.6 158.4 
L 391.2 149.2 
L 391.44 148 
L 391.68 147.92 
L 391.92 149.6 
L 392.4 158 
L 393 161.6 
L 393.28 162.2 
L 393.8 161.2 
L 394.8 154.8 
L 395.2 152.8 
L 395.6 151.4 
L 395.92 151 
L 396.28 150.88 
L 396.52 152 
L 397.08 156.8 
L 397.4 157.2 
L 397.8 158.4 
L 398.52 163.52 
L 398.8 162.8 
L 399.72 159.28 
L 400.48 161.6 
L 400.72 160 
L 401.28 152.8 
L 401.52 151.6 
L 401.72 151.6 
L 402.52 156.2 
L 402.8 156.48 
L 403.08 154.4 
L 403.52 150 
L 403.88 149.2 
L 404.2 148.8 
L 404.8 146.8 
L 405.52 145.68 
L 405.8 145.6 
L 406.08 146.2 
L 406.4 147.6 
L 407.08 148.72 
L 407.4 148.4 
L 407.92 144 
L 408.6 134.8 
L 408.88 134.32 
L 409.2 134.6 
L 409.48 135.6 
L 409.92 145.2 
L 410.4 155.6 
L 410.72 156.2 
L 411 157.12 
L 411.52 153.6 
L 412.32 146 
L 412.6 145.4 
L 412.88 143.6 
L 413.8 141.92 
L 414.08 143.2 
L 415 156.08 
L 415.28 155 
L 415.6 154.48 
L 415.92 154.88 
L 416.28 154.6 
L 416.88 153.28 
L 417.12 153.6 
L 417.32 154.4 
L 417.6 154 
L 418.12 151.92 
L 418.32 151.84 
L 418.52 152.6 
L 419.08 157.92 
L 419.28 156 
L 419.52 154.8 
L 419.8 154.72 
L 420.08 155.28 
L 420.6 154.8 
L 421.08 157 
L 421.4 157.4 
L 421.68 158.4 
L 422.2 164.8 
L 422.72 167.4 
L 423 168.6 
L 423.28 167.6 
L 423.52 164.4 
L 423.8 162.4 
L 424.08 161.68 
L 424.32 161.68 
L 424.6 162.2 
L 424.88 163.2 
L 425.52 166.4 
L 425.8 168.8 
L 426.2 173 
L 426.52 173.12 
L 426.8 173.4 
L 427 174.8 
L 427.4 182 
L 427.6 186.4 
L 428.28 174.4 
L 428.92 170.4 
L 429.12 171.2 
L 430.2 188.8 
L 430.48 191 
L 431.2 185.8 
L 431.48 185.4 
L 431.68 182.8 
L 432.4 167.2 
L 432.64 166.2 
L 433.48 169.68 
L 433.72 168.4 
L 434.32 163.4 
L 434.6 163.2 
L 434.8 163.92 
L 435 163.2 
L 435.48 156.4 
L 435.72 155 
L 435.92 154.8 
L 436.48 156.2 
L 436.8 155.6 
L 437.6 145.6 
L 438.2 142.8 
L 438.6 140.8 
L 440 130 
L 440.4 128.88 
L 440.8 130 
L 441.8 135.2 
L 442.2 139.2 
L 442.8 144 
L 443.12 148.8 
L 443.4 150.08 
L 443.68 148.4 
L 444.4 138 
L 445.6 129.6 
L 447.6 119.2 
L 448.88 105.6 
L 450 94.8 
L 450 94.8 
" clip-path="url(#p06871fd2fd)" style="fill: none; stroke: #000000; stroke-width: 0.5; stroke-linecap: square"/>
   </g>
   <g id="legend_1">
    <g id="patch_7">
     <path d="M 369.9200 65.0160 L 442.9360 65.0160 Q 444.9360 65.0160 444.9360 63.0160 L 444.9360 33.9200 Q 444.9360 31.9200 442.9360 31.9200 L 369.9200 31.9200 Q 367.9200 31.9200 367.9200 33.9200 L 367.9200 63.0160 Q 367.9200 65.0160 369.9200 65.0160 z" style="fill: #ffffff; opacity: 0.8; stroke: #cccccc; stroke-linejoin: miter"/>
    </g>
    <g id="line2d_31">
     <path d="M 371.9760 40.3200 L 391.9680 40.3200" style="fill: none; stroke: #ff0000; stroke-width: 0.5; stroke-linecap: square"/>
    </g>
    <g id="text_14" transform="translate(0.0600 0.3216)">
     <text style="font-size: 10px; font-family: 'DejaVu Sans', 'Liberation Sans', sans-serif; text-anchor: start" x="400.054375" y="43.598437" transform="rotate(-0 400.054375 43.598437)">Peak</text>
    </g>
    <g id="line2d_32">
     <path d="M 371.9760 55.4400 L 391.9680 55.4400" style="fill: none; stroke: #000000; stroke-width: 0.5; stroke-linecap: square"/>
    </g>
    <g id="text_15" transform="translate(0.0600 0.5232)">
     <text style="font-size: 10px; font-family: 'DejaVu Sans', 'Liberation Sans', sans-serif; text-anchor: start" x="400.054375" y="58.276563" transform="rotate(-0 400.054375 58.276563)">Average</text>
    </g>
   </g>
  </g>
 </g>
 <defs>
  <clipPath id="p06871fd2fd">
   <rect x="67.08" y="27" width="383.04" height="255.6"/>
  </clipPath>
 </defs>
</svg>

</body></html>
